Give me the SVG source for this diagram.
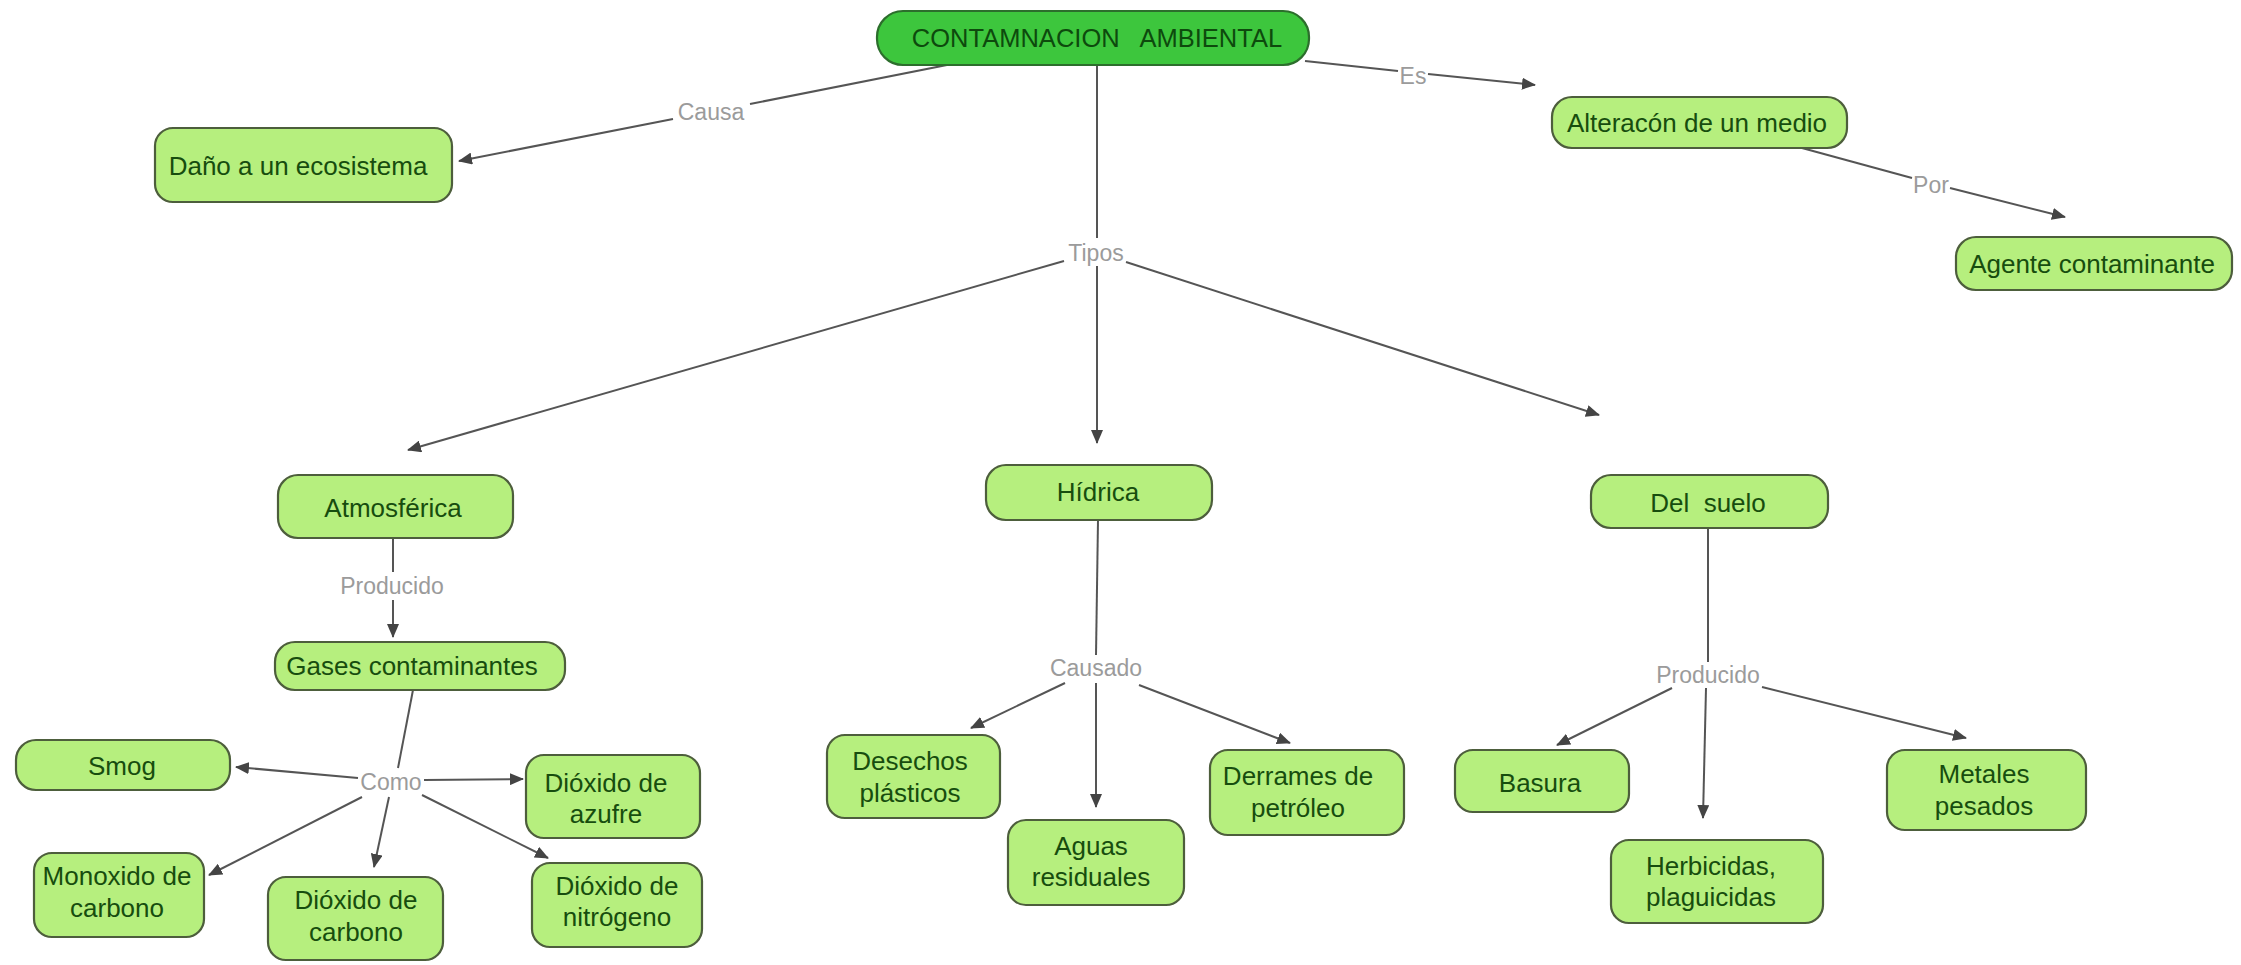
<svg xmlns="http://www.w3.org/2000/svg" width="2241" height="965" viewBox="0 0 2241 965">
<style>
.n rect{fill:#b6ef7e;stroke:#4d5e3c;stroke-width:2.2}
.n text{font-family:"Liberation Sans",Arial,sans-serif;font-size:26px;fill:#174d0e;text-anchor:middle}
#main rect{fill:#3dc63d;stroke:#2c6e2c}
#main text{fill:#0d4a0d;font-size:25.5px}
.c line{stroke:#555;stroke-width:2;fill:none}
.c line.a{marker-end:url(#ah)}
.lb{font-family:"Liberation Sans",Arial,sans-serif;font-size:23px;fill:#9b9b9b;text-anchor:middle}
</style>
<defs>
<marker id="ah" markerUnits="userSpaceOnUse" markerWidth="14" markerHeight="12" refX="13" refY="6" orient="auto">
<path d="M0,0 L14,6 L0,12 Z" fill="#444"/>
</marker>
</defs>
<rect width="2241" height="965" fill="#ffffff"/>
<g class="c" id="connectors">
<line x1="957" y1="63" x2="750" y2="104"/>
<line class="a" x1="673" y1="119" x2="459" y2="161"/>
<line x1="1305" y1="61" x2="1398" y2="71"/>
<line class="a" x1="1428" y1="74" x2="1535" y2="85"/>
<line x1="1802" y1="148" x2="1912" y2="178"/>
<line class="a" x1="1950" y1="188" x2="2065" y2="217"/>
<line x1="1097" y1="65" x2="1097" y2="238"/>
<line class="a" x1="1097" y1="266" x2="1097" y2="443"/>
<line class="a" x1="1064" y1="261" x2="408" y2="450"/>
<line class="a" x1="1126" y1="262" x2="1599" y2="415"/>
<line x1="393" y1="538" x2="393" y2="572"/>
<line class="a" x1="393" y1="600" x2="393" y2="637"/>
<line x1="413" y1="690" x2="398" y2="768"/>
<line class="a" x1="358" y1="778" x2="236" y2="767"/>
<line class="a" x1="424" y1="780" x2="523" y2="779"/>
<line class="a" x1="362" y1="797" x2="209" y2="875"/>
<line class="a" x1="389" y1="797" x2="374" y2="867"/>
<line class="a" x1="422" y1="795" x2="548" y2="858"/>
<line x1="1098" y1="520" x2="1096" y2="655"/>
<line class="a" x1="1065" y1="683" x2="971" y2="728"/>
<line class="a" x1="1096" y1="683" x2="1096" y2="807"/>
<line class="a" x1="1139" y1="685" x2="1290" y2="743"/>
<line x1="1708" y1="528" x2="1708" y2="662"/>
<line class="a" x1="1672" y1="688" x2="1557" y2="745"/>
<line class="a" x1="1706" y1="688" x2="1703" y2="818"/>
<line class="a" x1="1762" y1="687" x2="1966" y2="738"/>
<text class="lb" x="711" y="120">Causa</text>
<text class="lb" x="1413" y="84">Es</text>
<text class="lb" x="1931" y="193">Por</text>
<text class="lb" x="1096" y="261">Tipos</text>
<text class="lb" x="392" y="594">Producido</text>
<text class="lb" x="391" y="790">Como</text>
<text class="lb" x="1096" y="676">Causado</text>
<text class="lb" x="1708" y="683">Producido</text>
</g>
<g class="n" id="main"><rect x="877" y="11" width="432" height="54" rx="26"/><text x="1097" y="47" xml:space="preserve">CONTAMNACION   AMBIENTAL</text></g>
<g class="n" id="dano"><rect x="155" y="128" width="297" height="74" rx="18"/><text x="298" y="175">Daño a un ecosistema</text></g>
<g class="n" id="alteracion"><rect x="1552" y="97" width="295" height="51" rx="20"/><text x="1697" y="132">Alteracón de un medio</text></g>
<g class="n" id="agente"><rect x="1956" y="237" width="276" height="53" rx="20"/><text x="2092" y="273">Agente contaminante</text></g>
<g class="n" id="atmosferica"><rect x="278" y="475" width="235" height="63" rx="20"/><text x="393" y="517">Atmosférica</text></g>
<g class="n" id="hidrica"><rect x="986" y="465" width="226" height="55" rx="20"/><text x="1098" y="501">Hídrica</text></g>
<g class="n" id="suelo"><rect x="1591" y="475" width="237" height="53" rx="20"/><text x="1708" y="512" xml:space="preserve">Del  suelo</text></g>
<g class="n" id="gases"><rect x="275" y="642" width="290" height="48" rx="20"/><text x="412" y="675">Gases contaminantes</text></g>
<g class="n" id="smog"><rect x="16" y="740" width="214" height="50" rx="20"/><text x="122" y="775">Smog</text></g>
<g class="n" id="azufre"><rect x="526" y="755" width="174" height="83" rx="18"/><text x="606" y="792">Dióxido de</text><text x="606" y="823">azufre</text></g>
<g class="n" id="monoxido"><rect x="34" y="853" width="170" height="84" rx="18"/><text x="117" y="885">Monoxido de</text><text x="117" y="917">carbono</text></g>
<g class="n" id="dcarbono"><rect x="268" y="877" width="175" height="83" rx="18"/><text x="356" y="909">Dióxido de</text><text x="356" y="941">carbono</text></g>
<g class="n" id="nitrogeno"><rect x="532" y="863" width="170" height="84" rx="18"/><text x="617" y="895">Dióxido de</text><text x="617" y="926">nitrógeno</text></g>
<g class="n" id="desechos"><rect x="827" y="735" width="173" height="83" rx="18"/><text x="910" y="770">Desechos</text><text x="910" y="802">plásticos</text></g>
<g class="n" id="aguas"><rect x="1008" y="820" width="176" height="85" rx="18"/><text x="1091" y="855">Aguas</text><text x="1091" y="886">residuales</text></g>
<g class="n" id="derrames"><rect x="1210" y="750" width="194" height="85" rx="18"/><text x="1298" y="785">Derrames de</text><text x="1298" y="817">petróleo</text></g>
<g class="n" id="basura"><rect x="1455" y="750" width="174" height="62" rx="18"/><text x="1540" y="792">Basura</text></g>
<g class="n" id="herbicidas"><rect x="1611" y="840" width="212" height="83" rx="18"/><text x="1711" y="875">Herbicidas,</text><text x="1711" y="906">plaguicidas</text></g>
<g class="n" id="metales"><rect x="1887" y="750" width="199" height="80" rx="18"/><text x="1984" y="783">Metales</text><text x="1984" y="815">pesados</text></g>
</svg>
